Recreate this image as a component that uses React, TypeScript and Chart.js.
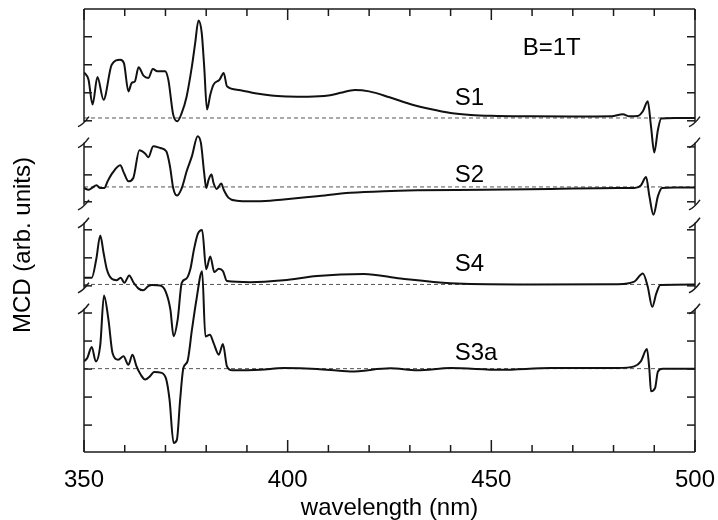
import React, { useEffect, useRef } from 'react';
import { Chart, registerables } from 'chart.js';

Chart.register(...registerables);

// ---- data (wavelength in nm, MCD in arbitrary units relative to each trace's zero line)
const S1_WL = [350.0, 351.1, 352.1, 353.3, 354.8, 356.8, 358.9, 359.8, 360.9, 361.7, 362.5, 363.4, 364.6, 365.8, 366.9, 368.0, 369.9, 370.7, 371.9, 372.9, 374.0, 375.2, 376.5, 377.3, 378.1, 378.9, 379.5, 380.2, 381.0, 381.8, 383.3, 384.3, 385.1, 388, 392, 396, 400, 405, 410, 413, 416.5, 420, 425, 430, 435, 440, 445, 450, 460, 470, 479.5, 482.3, 483.9, 485.9, 487.2, 488.4, 489.2, 490.0, 490.9, 491.7, 495, 500];
const S1_MCD = [1.63, 1.37, 0.48, 1.46, 0.65, 1.9, 2.08, 1.96, 0.95, 1.25, 1.31, 1.81, 1.51, 1.43, 1.75, 1.67, 1.67, 1.37, 0.12, -0.12, 0.18, 0.77, 1.85, 2.68, 3.48, 3.04, 1.85, 0.3, 0.83, 1.19, 1.37, 1.61, 1.13, 1.0, 0.88, 0.8, 0.77, 0.76, 0.8, 0.9, 1.0, 0.95, 0.74, 0.5, 0.32, 0.18, 0.11, 0.08, 0.06, 0.05, 0.06, 0.13, 0.06, 0.07, 0.24, 0.6, -0.3, -1.23, -0.42, -0.02, 0.0, 0.0];

const S2_WL = [350.0, 351.1, 351.9, 353.1, 353.9, 355.0, 355.8, 357.0, 358.9, 359.8, 360.9, 362.1, 363.6, 365.0, 365.8, 367.0, 368.7, 370.2, 371.1, 371.9, 372.8, 374.0, 375.2, 376.5, 377.9, 378.7, 379.5, 380.0, 380.6, 381.3, 381.8, 382.6, 383.7, 384.3, 385.5, 387.5, 391, 395.7, 399, 407.2, 415.4, 423.6, 431.8, 448.2, 464.6, 481, 485.1, 486.7, 488.0, 488.8, 489.8, 490.9, 491.9, 495, 500];
const S2_MCD = [-0.04, -0.1, -0.04, 0.06, -0.04, -0.04, 0.2, 0.5, 0.77, 0.5, 0.2, 0.32, 1.31, 1.19, 1.06, 1.45, 1.39, 1.27, 0.74, -0.04, -0.31, -0.04, 0.56, 1.1, 1.81, 1.57, 0.5, -0.04, 0.26, 0.44, 0.14, -0.07, 0.12, -0.1, -0.39, -0.49, -0.51, -0.49, -0.45, -0.33, -0.21, -0.15, -0.12, -0.1, -0.07, -0.04, -0.04, 0.05, 0.35, -0.33, -0.99, -0.33, -0.04, -0.02, -0.02];

const S4_WL = [350.0, 351.9, 353.0, 354.0, 354.8, 355.6, 356.8, 358.0, 359.0, 359.9, 361.1, 362.2, 363.4, 364.5, 365.8, 366.7, 368.7, 370.0, 371.2, 372.0, 373.0, 374.0, 375.1, 376.1, 377.0, 377.9, 379.0, 380.0, 381.0, 382.0, 383.1, 384.1, 385.1, 390.8, 399, 407.2, 418.7, 427.7, 440, 456.4, 481, 485.1, 487.2, 488.4, 489.5, 490.5, 491.5, 500];
const S4_MCD = [0.24, 0.24, 0.89, 1.75, 1.13, 0.54, 0.2, 0.15, 0.24, 0.06, 0.32, 0.06, -0.15, -0.21, -0.06, -0.02, -0.04, -0.24, -0.89, -1.85, -1.25, 0.06, 0.2, 0.54, 1.25, 1.79, 1.94, 0.54, 1.0, 0.44, 0.56, 0.48, 0.12, 0.08, 0.15, 0.3, 0.37, 0.21, 0.04, 0.0, 0.01, 0.1, 0.39, -0.08, -0.8, -0.32, -0.02, 0.0];

const S3A_WL = [350.0, 350.8, 351.9, 352.9, 354.0, 354.9, 356.0, 357.0, 358.4, 359.7, 360.9, 361.9, 362.9, 363.9, 365.0, 366.2, 367.2, 369.1, 370.2, 371.0, 372.0, 372.8, 373.6, 374.4, 375.4, 376.5, 377.6, 379.0, 379.8, 380.9, 381.8, 383.1, 384.1, 385.1, 386.4, 393.3, 399, 407.2, 415.4, 425.2, 431.8, 440, 452.3, 464.6, 481, 485.1, 486.7, 488.2, 488.8, 489.2, 490.2, 490.9, 492.1, 500];
const S3A_MCD = [0.26, 0.38, 0.77, 0.26, 0.86, 2.61, 1.75, 0.56, 0.32, 0.44, 0.14, 0.5, 0.08, -0.21, -0.39, -0.27, -0.12, -0.15, -0.39, -1.11, -2.65, -2.54, -1.11, 0.02, 0.26, 1.39, 2.46, 3.48, 1.15, 1.21, 0.92, 0.5, 0.88, 0.08, -0.06, -0.04, 0.02, -0.01, -0.1, 0.01, -0.06, 0.02, -0.04, 0.02, 0.02, 0.08, 0.26, 0.7, -0.04, -0.81, -0.69, -0.1, 0.0, 0.0];

const SERIES_NAMES = ['S1', 'S2', 'S4', 'S3a'];
const SERIES_WL = [S1_WL, S2_WL, S4_WL, S3A_WL];
const SERIES_MCD = [S1_MCD, S2_MCD, S4_MCD, S3A_MCD];
// vertical offset of each trace's zero line on the shared (arbitrary-unit) axis
const TRACE_OFFSETS = [11.92, 9.46, 5.98, 2.975];
// tick labels
const X_TICK_LABELS = [350, 400, 450, 500];
const X_MINOR_STEP = 10;
const Y_TICKS = [14.82, 13.82, 12.82, 11.82, 10.89, 9.89, 8.93, 7.93, 6.93, 5.93, 4.96, 3.96, 2.96, 1.96, 0.96];
const FIELD_TEXT = 'B=1T';
const X_TITLE = 'wavelength (nm)';
const Y_TITLE = 'MCD (arb. units)';

// ---- layout constants (not data)
const W = 718;
const H = 520;
const Y_MAX = 15.81;
const AXIS_SEGMENTS: [number, number][] = [[Y_MAX, 11.79], [11.04, 8.82], [8.18, 5.86], [5.11, 0]];
const LABEL_ANCHORS: [number, number][] = [[441, 12.63], [441, 9.89], [441, 6.68], [441, 3.52]];
const FIELD_ANCHOR: [number, number] = [457.7, 14.4];
const FONT = '"Liberation Sans", Arial, Helvetica, sans-serif';

const framePlugin = {
  id: 'brokenFrame',
  afterDatasetsDraw(chart: any) {
    const { ctx, chartArea: a, scales } = chart;
    const x = scales.x, y = scales.y;
    const line = (x1: number, y1: number, x2: number, y2: number) => {
      ctx.beginPath(); ctx.moveTo(x1, y1); ctx.lineTo(x2, y2); ctx.stroke();
    };
    ctx.save();
    ctx.strokeStyle = '#1a1a1a';
    ctx.lineWidth = 1.5;
    ctx.lineCap = 'butt';
    line(a.left, a.top, a.right, a.top);
    line(a.left, a.bottom, a.right, a.bottom);
    AXIS_SEGMENTS.forEach(([t, b], i) => {
      const y1 = y.getPixelForValue(t), y2 = y.getPixelForValue(b);
      line(a.left, y1, a.left, y2);
      line(a.right, y1, a.right, y2);
      const marks: number[] = [];
      if (i > 0) marks.push(y1);
      if (i < AXIS_SEGMENTS.length - 1) marks.push(y2);
      marks.forEach((py) => {
        [a.left, a.right].forEach((px) => {
          ctx.beginPath();
          ctx.moveTo(px - 6, py + 5);
          ctx.quadraticCurveTo(px - 1, py + 3, px + 5, py - 5);
          ctx.stroke();
        });
      });
    });
    for (let w = x.min; w <= x.max + 0.001; w += X_MINOR_STEP) {
      const px = x.getPixelForValue(w);
      const major = X_TICK_LABELS.includes(Math.round(w));
      line(px, a.bottom, px, a.bottom - (major ? 12 : 7));
      line(px, a.top, px, a.top + (major ? 11 : 7));
    }
    Y_TICKS.forEach((t) => {
      const py = y.getPixelForValue(t);
      line(a.left, py, a.left + 8, py);
      line(a.right, py, a.right - 8, py);
    });
    ctx.fillStyle = '#000';
    ctx.font = `24px ${FONT}`;
    ctx.textAlign = 'left';
    ctx.textBaseline = 'middle';
    SERIES_NAMES.forEach((n, i) => {
      ctx.fillText(n, x.getPixelForValue(LABEL_ANCHORS[i][0]), y.getPixelForValue(LABEL_ANCHORS[i][1]));
    });
    ctx.fillText(FIELD_TEXT, x.getPixelForValue(FIELD_ANCHOR[0]), y.getPixelForValue(FIELD_ANCHOR[1]));
    ctx.translate(23, 245);
    ctx.rotate(-Math.PI / 2);
    ctx.textAlign = 'center';
    ctx.fillText(Y_TITLE, 0, 0);
    ctx.restore();
  },
};

export default function App() {
  const ref = useRef<HTMLCanvasElement>(null);
  useEffect(() => {
    const prevMargin = document.body.style.margin;
    document.body.style.margin = '0';
    if (!ref.current) return;
    const traceSets = SERIES_NAMES.map((name, i) => ({
      label: name,
      data: SERIES_WL[i].map((w, k) => ({ x: w, y: SERIES_MCD[i][k] + TRACE_OFFSETS[i] })),
      borderColor: '#111',
      borderWidth: 2,
      pointRadius: 0,
      fill: false,
      cubicInterpolationMode: 'monotone' as const,
    }));
    const zeroSets = TRACE_OFFSETS.map((off, i) => ({
      label: SERIES_NAMES[i] + ' zero',
      data: [{ x: 350, y: off }, { x: 500, y: off }],
      borderColor: '#555',
      borderWidth: 1,
      borderDash: [4, 3],
      pointRadius: 0,
      fill: false,
    }));
    const chart = new Chart(ref.current, {
      type: 'line',
      data: { datasets: [...traceSets, ...zeroSets] },
      options: {
        responsive: false,
        animation: false,
        events: [],
        layout: { padding: { left: 0, top: 9, right: 23, bottom: 0 } },
        plugins: { legend: { display: false }, tooltip: { enabled: false } },
        scales: {
          x: {
            type: 'linear',
            min: 350,
            max: 500,
            grid: { display: false, drawTicks: false },
            border: { display: false },
            ticks: { stepSize: 50, padding: 14, color: '#000', font: { family: FONT, size: 24 }, callback: (v: any) => String(v) },
            title: { display: true, text: X_TITLE, color: '#000', padding: 0, font: { family: FONT, size: 24, lineHeight: 1.0 } },
            afterFit: (s: any) => { s.height = 68; s.paddingLeft = 0; s.paddingRight = 0; },
          },
          y: {
            type: 'linear',
            min: 0,
            max: Y_MAX,
            grid: { display: false, drawTicks: false },
            border: { display: false },
            ticks: { display: false },
            afterFit: (s: any) => { s.width = 84; s.paddingTop = 0; s.paddingBottom = 0; },
          },
        },
      },
      plugins: [framePlugin],
    });
    return () => { chart.destroy(); document.body.style.margin = prevMargin; };
  }, []);
  return (
    <div style={{ width: W, height: H }}>
      <canvas ref={ref} width={W} height={H} style={{ display: 'block' }} />
    </div>
  );
}
